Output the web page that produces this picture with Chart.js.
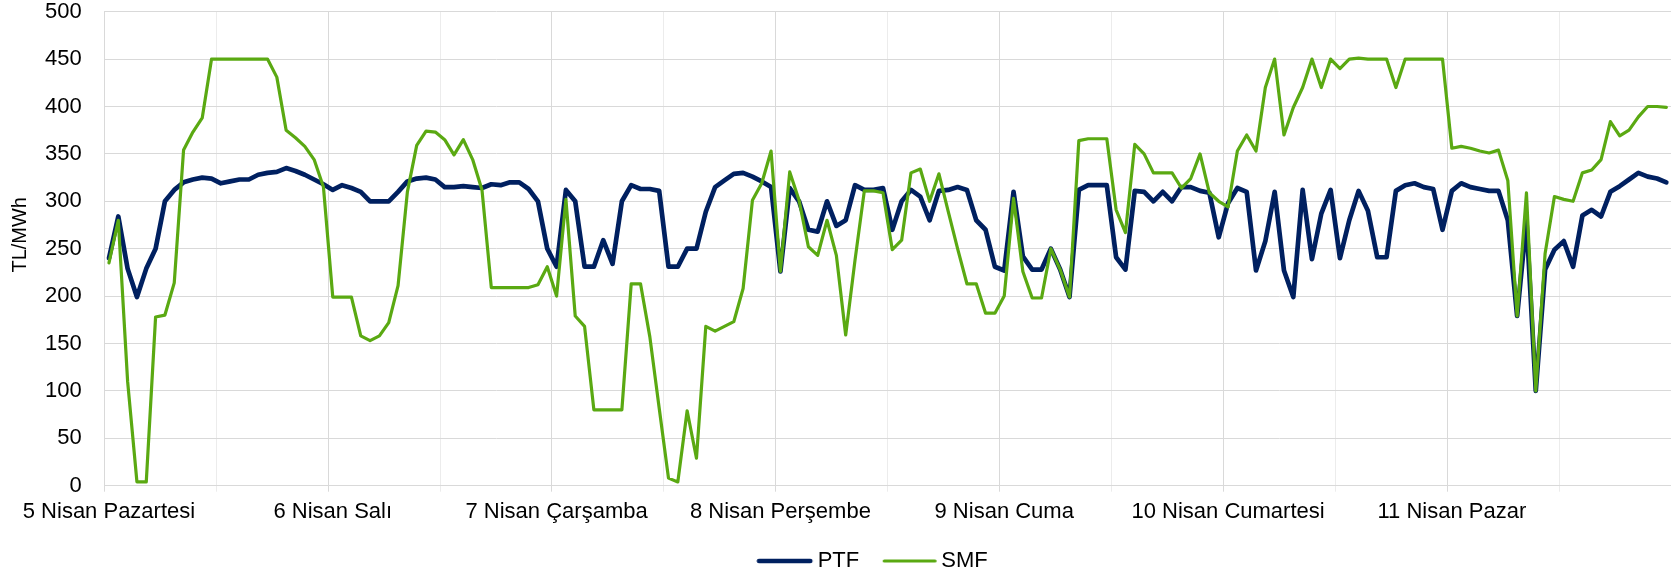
<!DOCTYPE html>
<html><head><meta charset="utf-8">
<script src="https://cdn.jsdelivr.net/npm/chart.js@4.4.1/dist/chart.umd.min.js"></script>
<style>html,body{margin:0;padding:0;background:#fff;}canvas{display:block;}</style>
</head><body>
<canvas id="c" width="1671" height="576"></canvas>
<script>
const days = ["5 Nisan Pazartesi","6 Nisan Salı","7 Nisan Çarşamba","8 Nisan Perşembe","9 Nisan Cuma","10 Nisan Cumartesi","11 Nisan Pazar"];
const hours = Array.from({length:24},(_,h)=>String(h).padStart(2,'0')+':00');
const yTickValues = [0,50,100,150,200,250,300,350,400,450,500];
const seriesNames = ["PTF","SMF"];

const ptf = [
 240,284,229,199,229,250,300,312,320,323,325,324,319,321,323,323,328,330,331,335,332,328,323,318,
 312,317,314,310,300,300,300,310,321,324,325,323,315,315,316,315,314,318,317,320,320,313,300,250,
 231,312,300,231,231,259,234,300,317,313,313,311,231,231,250,250,289,315,322,329,330,326,321,315,
 226,314,300,270,268,300,274,280,317,312,312,314,270,300,312,305,280,311,312,315,312,280,270,231,
 227,310,242,228,228,250,228,199,312,317,317,317,241,228,311,310,300,310,300,315,315,311,309,262,
 298,314,310,227,258,310,227,199,312,239,287,312,240,280,311,290,241,241,311,317,319,315,313,270,
 311,319,315,313,311,311,280,179,280,100,228,249,258,231,285,291,284,310,316,323,330,326,324,320
];
const smf = [
 235,280,110,4,4,178,180,214,354,373,388,450,450,450,450,450,450,450,431,375,367,358,344,315,
 199,199,199,158,153,158,172,211,310,359,374,373,365,349,365,344,312,209,209,209,209,209,212,231,
 200,302,179,168,80,80,80,80,213,213,157,82,8,4,79,29,168,163,168,173,208,301,319,353,
 226,331,301,252,243,280,243,159,238,311,311,309,249,259,330,334,300,329,289,250,213,213,182,182,
 200,303,226,198,198,250,228,199,364,366,366,366,291,267,360,350,330,330,330,314,324,350,309,300,
 294,353,370,353,420,450,370,399,420,450,420,450,440,450,451,450,450,450,420,450,450,450,450,450,
 356,358,356,353,351,354,322,179,309,100,245,305,302,300,330,333,344,384,369,375,389,400,400,399
];

const categories = [];
days.forEach(d => hours.forEach(h => categories.push(d + ' ' + h)));

const FONT = "'Liberation Sans', Arial, sans-serif";
const colors = ['#002060', '#5aa912'];
const widths = [4.7, 3.2];

function legendLine(color, lw, x1, x2) {
  const c = document.createElement('canvas');
  c.width = 82; c.height = 12;
  const g = c.getContext('2d');
  g.strokeStyle = color; g.lineWidth = lw; g.lineCap = 'round';
  g.beginPath(); g.moveTo(x1, 6); g.lineTo(x2, 6); g.stroke();
  return c;
}
const legendImgs = [legendLine(colors[0], widths[0], 2.9, 54.1), legendLine(colors[1], widths[1], 4.5, 55.3)];

new Chart(document.getElementById('c'), {
  type: 'line',
  data: {
    labels: categories,
    datasets: [
      {label: seriesNames[0], data: ptf, borderColor: colors[0], backgroundColor: colors[0], borderWidth: widths[0], order: 1},
      {label: seriesNames[1], data: smf, borderColor: colors[1], backgroundColor: colors[1], borderWidth: widths[1], order: 0}
    ]
  },
  options: {
    responsive: false,
    animation: false,
    devicePixelRatio: 1,
    events: [],
    layout: {padding: {top: 11.7, left: 0, right: 0, bottom: 0}},
    elements: {
      line: {tension: 0, borderJoinStyle: 'round', borderCapStyle: 'round', fill: false},
      point: {radius: 0, hoverRadius: 0}
    },
    scales: {
      x: {
        type: 'category',
        offset: true,
        grid: {
          offset: true,
          lineWidth: 1,
          tickLength: 6,
          color: (ctx) => {
            if (ctx.index === undefined || ctx.index >= categories.length) return 'rgba(0,0,0,0)';
            if (ctx.index % 24 === 0) return '#d9d9d9';
            if (ctx.index % 12 === 0) return '#ececec';
            return 'rgba(0,0,0,0)';
          }
        },
        border: {color: '#d9d9d9', width: 1},
        ticks: {
          autoSkip: false, maxRotation: 0, minRotation: 0,
          mirror: true, padding: -39.4,
          color: '#000', font: {family: FONT, size: 22},
          callback: (value, index) => index % 24 === 0 ? days[index / 24] : ''
        },
        afterFit: (s) => { s.height = 12.3; s.paddingLeft = 0; s.paddingRight = 0; }
      },
      y: {
        min: yTickValues[0], max: yTickValues[yTickValues.length - 1],
        afterBuildTicks: (s) => { s.ticks = yTickValues.map(v => ({value: v})); },
        grid: {color: '#d9d9d9', lineWidth: 1, drawTicks: false},
        border: {color: '#d9d9d9', width: 1},
        ticks: {padding: 22.5, color: '#000', font: {family: FONT, size: 22}},
        title: {display: true, text: '     TL/MWh', color: '#000', font: {family: FONT, size: 20}, padding: {top: 8, bottom: 0}},
        afterFit: (s) => { s.width = 104.3; s.paddingTop = 0; s.paddingBottom = 0; }
      }
    },
    plugins: {
      tooltip: {enabled: false},
      legend: {
        position: 'bottom',
        fullSize: false,
        maxHeight: 78,
        labels: {
          usePointStyle: true,
          pointStyleWidth: 19,
          padding: 52,
          color: '#000',
          font: {family: FONT, size: 22},
          generateLabels: (chart) => chart.data.datasets.map((ds, i) => ({
            text: ds.label, pointStyle: legendImgs[i], fillStyle: ds.borderColor,
            strokeStyle: ds.borderColor, lineWidth: 0, hidden: false, datasetIndex: i, fontColor: '#000'
          }))
        }
      }
    }
  }
});
</script>
</body></html>
